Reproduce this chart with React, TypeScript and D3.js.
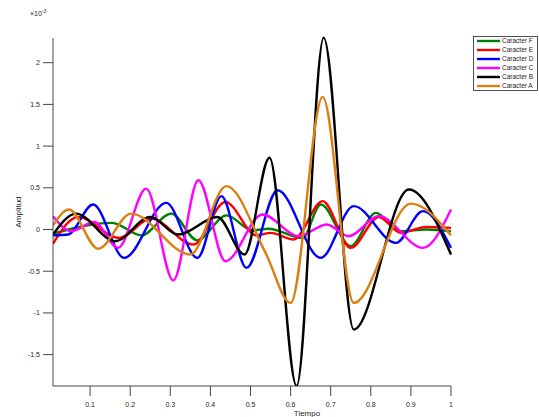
import React from "react";
import * as d3 from "d3";

const seriesNames = ["Caracter F", "Caracter E", "Caracter D", "Caracter C", "Caracter B", "Caracter A"];
const seriesColors = ["#008000", "#ff0000", "#0000ff", "#ff00ff", "#000000", "#db8010"];

// time / amplitude (x 1e-3) key points
const tF = [0.0075, 0.155, 0.2275, 0.3025, 0.3675, 0.44, 0.505, 0.545, 0.63, 0.675, 0.75, 0.8125, 0.875, 0.9375, 1.0];
const vF = [-0.05, 0.08, -0.07, 0.19, -0.13, 0.17, -0.01, 0.01, -0.1, 0.3, -0.2, 0.2, -0.02, 0.0, -0.02];

const tE = [0.0075, 0.07, 0.1725, 0.2525, 0.3575, 0.4375, 0.515, 0.55, 0.6075, 0.68, 0.75, 0.82, 0.875, 0.9375, 1.0];
const vE = [-0.17, 0.15, -0.1, 0.13, -0.18, 0.33, -0.07, -0.04, -0.12, 0.34, -0.22, 0.15, -0.04, 0.03, 0.02];

const tD = [0.0075, 0.045, 0.1075, 0.185, 0.29, 0.3675, 0.4275, 0.49, 0.5675, 0.675, 0.7575, 0.8625, 0.93, 1.0];
const vD = [-0.07, -0.06, 0.3, -0.34, 0.32, -0.34, 0.4, -0.46, 0.47, -0.34, 0.28, -0.16, 0.22, -0.22];

const tC = [0.0075, 0.0525, 0.11, 0.17, 0.24, 0.3075, 0.37, 0.4375, 0.53, 0.62, 0.69, 0.745, 0.82, 0.93, 1.0];
const vC = [0.16, -0.02, 0.09, -0.22, 0.49, -0.61, 0.59, -0.38, 0.18, -0.08, 0.06, -0.08, 0.16, -0.22, 0.24];

const tB = [0.0075, 0.065, 0.1625, 0.25, 0.32, 0.4175, 0.485, 0.5475, 0.615, 0.6825, 0.7575, 0.895, 1.0];
const vB = [-0.06, 0.19, -0.14, 0.15, -0.06, 0.15, -0.3, 0.86, -1.876, 2.3, -1.2, 0.48, -0.3];

const tA = [0.0075, 0.0475, 0.12, 0.2025, 0.35, 0.44, 0.5375, 0.6, 0.68, 0.7575, 0.9, 1.0];
const vA = [0.05, 0.24, -0.23, 0.19, -0.3, 0.52, -0.28, -0.88, 1.59, -0.88, 0.31, -0.07];

const xTicks = [0.1, 0.2, 0.3, 0.4, 0.5, 0.6, 0.7, 0.8, 0.9, 1];
const yTicks = [-1.5, -1, -0.5, 0, 0.5, 1, 1.5, 2];

const times = [tF, tE, tD, tC, tB, tA];
const values = [vF, vE, vD, vC, vB, vA];

const FONT = "'Liberation Sans', Arial, Helvetica, sans-serif";
const AX = "#262626";

export default function App() {
  const left = 53, right = 451, top = 38, bottom = 386;
  const allT = times.flat();
  const xs = d3.scaleLinear().domain(d3.extent(allT) as [number, number]).range([left, right]);
  const ys = d3.scaleLinear().domain([-1.876, 2.296]).range([bottom, top]);

  const series = seriesNames.map((name, i) => ({
    name,
    color: seriesColors[i],
    pts: times[i].map((t, j) => [t, values[i][j]] as [number, number]),
  }));

  const line = d3
    .line<[number, number]>()
    .x((d) => xs(d[0]))
    .y((d) => ys(d[1]))
    .curve(d3.curveMonotoneX);

  const fmt = (v: number) => (Math.abs(v) < 1e-9 ? "0" : String(v));

  return (
    <svg
      width={539}
      height={417}
      style={{ position: "absolute", left: 0, top: 0, background: "#fff" }}
      fontFamily={FONT}
    >
      <rect x={0} y={0} width={539} height={417} fill="#fff" />
      <defs>
        <clipPath id="plotclip">
          <rect x={left} y={top - 2} width={right - left + 2} height={bottom - top + 2} />
        </clipPath>
      </defs>
      <g clipPath="url(#plotclip)">
        {series.map((s) => (
          <path key={s.name} d={line(s.pts) || ""} fill="none" stroke={s.color} strokeWidth={2.4} strokeLinejoin="round" />
        ))}
      </g>
      {/* axes */}
      <line x1={left} x2={left} y1={top} y2={bottom} stroke={AX} strokeWidth={1} opacity={0.85} />
      <line x1={left} x2={right} y1={bottom} y2={bottom} stroke={AX} strokeWidth={1} opacity={0.85} />
      {yTicks.map((v) => (
        <g key={"y" + v}>
          <line x1={left - 10} x2={left} y1={ys(v)} y2={ys(v)} stroke={AX} opacity={0.85} />
          <text x={left - 13} y={ys(v)} dy="0.35em" fontSize={7} textAnchor="end" fill={AX}>
            {fmt(v)}
          </text>
        </g>
      ))}
      {xTicks.map((v) => (
        <g key={"x" + v}>
          <line x1={xs(v)} x2={xs(v)} y1={bottom} y2={bottom + 10} stroke={AX} opacity={0.85} />
          <text x={xs(v)} y={bottom + 19} dy="0.35em" fontSize={7} textAnchor="middle" fill={AX}>
            {fmt(v)}
          </text>
        </g>
      ))}
      <text x={30} y={16} fontSize={7} fill={AX}>
        ×10<tspan dy={-3} fontSize={5}>-3</tspan>
      </text>
      <text x={307} y={416} fontSize={8} textAnchor="middle" fill={AX}>Tiempo</text>
      <text transform={`translate(21,${(top + bottom) / 2}) rotate(-90)`} fontSize={8} textAnchor="middle" fill={AX}>
        Amplitud
      </text>
      {/* legend */}
      <rect x={473.5} y={36.5} width={64} height={54} fill="#fff" stroke={AX} strokeWidth={0.8} />
      {series.map((s, i) => (
        <g key={"lg" + s.name}>
          <line x1={477} x2={500} y1={41 + i * 9} y2={41 + i * 9} stroke={s.color} strokeWidth={2.4} />
          <text x={502} y={41 + i * 9} dy="0.35em" fontSize={6.5} fill={AX}>
            {s.name}
          </text>
        </g>
      ))}
    </svg>
  );
}
